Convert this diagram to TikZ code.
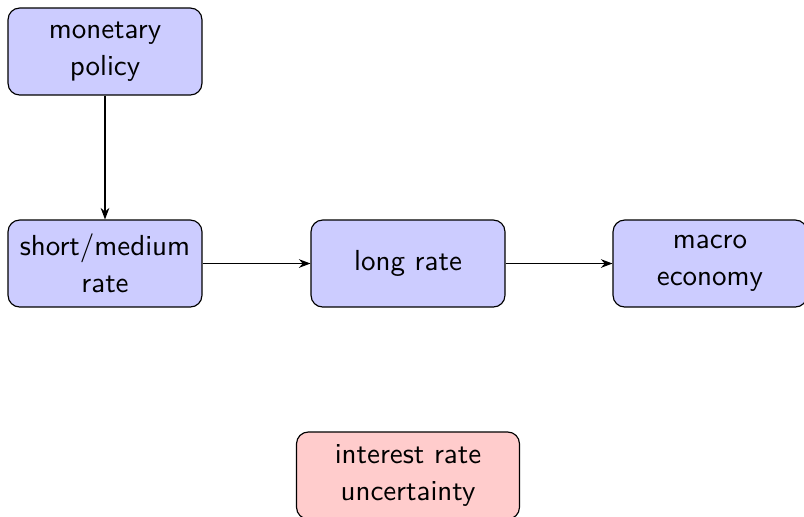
\documentclass[tikz,border=0pt]{standalone}
\usetikzlibrary{arrows.meta}
\begin{document}
\begin{tikzpicture}[x=0.345pt,y=-0.345pt,
  box/.style={draw=black,rounded corners=4pt,fill=blue!20,align=center,
    minimum width=66.9pt,minimum height=30pt,inner sep=0pt,
    font=\sffamily\fontsize{10}{12.8}\selectfont},
  rbox/.style={box,fill=red!20,minimum width=76.9pt},
  conn/.style={-{Stealth[length=4pt,width=3pt]},thin}]
\useasboundingbox (0,0) rectangle (804,516);
\node[box] (mp) at (105,51.5) {monetary\\policy};
\node[box] (sm) at (105,263.5) {short/medium\\rate};
\node[box] (lr) at (408,263.5) {long rate};
\node[box] (me) at (710,263.5) {macro\\economy};
\node[rbox] (iu) at (408,475.5) {interest rate\\uncertainty};
\draw[conn] (mp) -- (sm);
\draw[conn] (sm) -- (lr);
\draw[conn] (lr) -- (me);
\end{tikzpicture}
\end{document}
